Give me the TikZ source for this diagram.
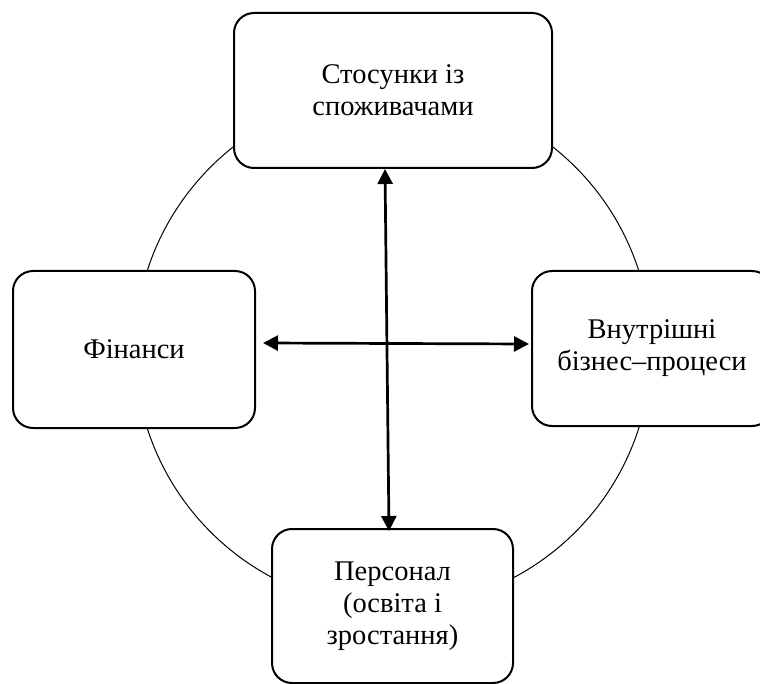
\documentclass[tikz,border=0pt]{standalone}
\usepackage{fontspec}
\setmainfont{Liberation Serif}
\usetikzlibrary{arrows.meta}
\tikzset{
  box/.style={draw=black, fill=white, line width=2pt, rounded corners=20pt,
    align=center, inner sep=0pt, font=\fontsize{28.5}{32}\selectfont},
  ring/.style={draw=black, line width=1pt},
  arr/.style={line width=2.7pt, {Triangle[length=15pt,width=15pt]}-{Triangle[length=15pt,width=15pt]}}
}
\begin{document}
\begin{tikzpicture}[x=1pt,y=-1pt]
\useasboundingbox (0,0) rectangle (760,684);
\draw[ring] (393,349.5) circle[radius=258];
\node[box, minimum width=318pt, minimum height=155pt] (top) at (393,90.5) {Стосунки із\\споживачами};
\node[box, minimum width=242pt, minimum height=157pt] (left) at (134,349.5) {Фінанси};
\node[box, minimum width=240pt, minimum height=155pt] (right) at (652,348.5) {Внутрішні\\бізнес–процеси};
\node[box, minimum width=241pt, minimum height=154pt] (bottom) at (392.5,606) {Персонал\\(освіта і\\зростання)};
\draw[arr] ([xshift=-8pt]top.south) -- ([xshift=-3.5pt,yshift=-3pt]bottom.north);
\draw[arr] ([xshift=7pt,yshift=6.5pt]left.east) -- ([xshift=-2pt,yshift=4.5pt]right.west);
\end{tikzpicture}
\end{document}
